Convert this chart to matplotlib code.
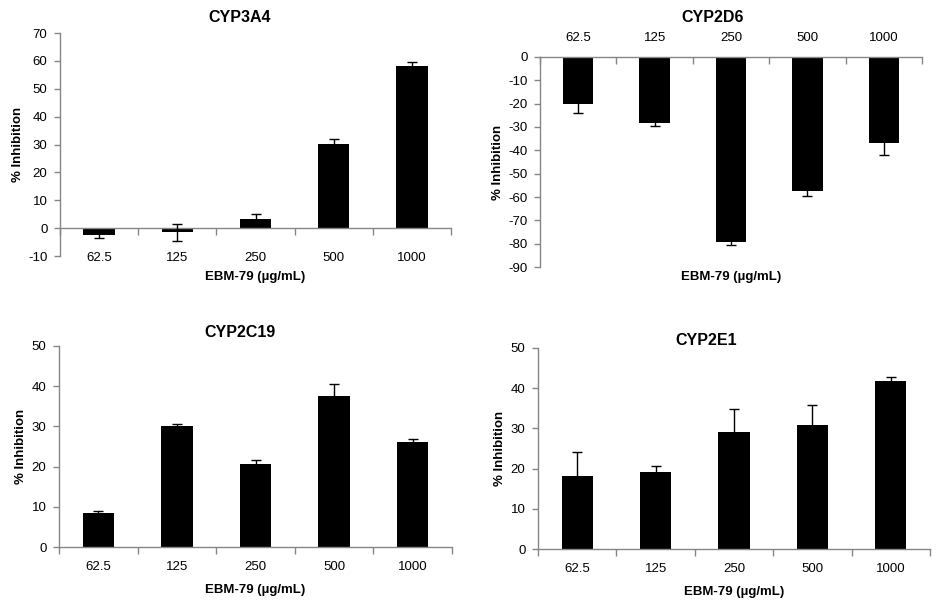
import numpy as np
import matplotlib
matplotlib.use('Agg')
from matplotlib import pyplot as plt
from matplotlib.ticker import FixedLocator, NullFormatter

plt.rcParams['font.family'] = ['Liberation Sans', 'DejaVu Sans']
plt.rcParams['axes.unicode_minus'] = False

# %% data
doses = ['62.5', '125', '250', '500', '1000']
xlabel = 'EBM-79 (\u00b5g/mL)'
ylabel = '% Inhibition'

cyp3a4 = [-2.3, -1.5, 3.3, 30.2, 58.1]
cyp3a4_err = [1.3, 3.0, 1.7, 1.7, 1.4]

cyp2d6 = [-20.3, -28.5, -79.2, -57.3, -36.7]
cyp2d6_err = [3.7, 1.2, 1.4, 2.4, 5.4]

cyp2c19 = [8.5, 30.1, 20.7, 37.6, 26.2]
cyp2c19_err = [0.4, 0.6, 0.9, 2.9, 0.75]

cyp2e1 = [18.1, 19.2, 29.1, 30.8, 41.7]
cyp2e1_err = [6.1, 1.5, 5.7, 5.1, 1.2]

AX_COL = '#868686'
W, H = 952, 603
TICK_FS = 9.5
LAB_FS = 9.5
TITLE_FS = 11.5

def px_axes(l, t, r, b):
    return fig.add_axes([l / W, 1 - b / H, (r - l) / W, (b - t) / H])

def style(ax, title, vals, errs, ylim, step, title_x, title_y):
    x = np.arange(len(doses))
    ax.bar(x, vals, width=0.4, color='black', zorder=2)
    ax.errorbar(x, vals, yerr=errs, fmt='none', ecolor='black', elinewidth=1,
                capsize=3.5, capthick=1, zorder=3)
    ax.set_xlim(-0.5, len(doses) - 0.5)
    ax.set_ylim(*ylim)
    ax.set_yticks(np.arange(ylim[0], ylim[1] + 0.1, step))
    for s in ['top', 'right']:
        ax.spines[s].set_visible(False)
    for s in ['left', 'bottom', 'top']:
        ax.spines[s].set_color(AX_COL)
        ax.spines[s].set_linewidth(1)
    ax.tick_params(axis='y', colors=AX_COL, labelcolor='black', labelsize=TICK_FS,
                   length=4, width=1, direction='out', pad=5)
    ax.set_xticks(x)
    ax.set_xticklabels(doses)
    ax.xaxis.set_minor_locator(FixedLocator(np.arange(-0.5, len(doses), 1)))
    ax.xaxis.set_minor_formatter(NullFormatter())
    ax.set_title(title, fontsize=TITLE_FS, fontweight='bold', x=title_x, y=title_y, pad=0)
    ax.set_ylabel(ylabel, fontsize=LAB_FS, fontweight='bold', labelpad=3)

fig = plt.figure(figsize=(9.52, 6.03), dpi=100)

# %% CYP3A4
ax1 = px_axes(60, 33, 451, 256)
style(ax1, 'CYP3A4', cyp3a4, cyp3a4_err, (-10, 70), 10, 0.46, 1.049)
ax1.spines['bottom'].set_position(('data', 0))
ax1.tick_params(axis='x', which='major', length=0, pad=17, labelsize=TICK_FS)
ax1.tick_params(axis='x', which='minor', length=5, width=1, colors=AX_COL)
ax1.set_xlabel(xlabel, fontsize=LAB_FS, fontweight='bold', labelpad=5)

# %% CYP2D6
ax2 = px_axes(540, 57, 922, 267)
style(ax2, 'CYP2D6', cyp2d6, cyp2d6_err, (-90, 0), 10, 0.452, 1.167)
ax2.spines['bottom'].set_visible(False)
ax2.spines['top'].set_visible(True)
ax2.xaxis.tick_top()
ax2.tick_params(axis='x', which='major', length=0, pad=9, labelsize=TICK_FS)
ax2.tick_params(axis='x', which='minor', length=5, width=1, colors=AX_COL,
                direction='in')
ax2.xaxis.set_label_position('bottom')
ax2.set_xlabel(xlabel, fontsize=LAB_FS, fontweight='bold', labelpad=3)

# %% CYP2C19
ax3 = px_axes(59, 346, 452, 547)
style(ax3, 'CYP2C19', cyp2c19, cyp2c19_err, (0, 50), 10, 0.46, 1.045)
ax3.tick_params(axis='x', which='major', length=0, pad=10, labelsize=TICK_FS)
ax3.tick_params(axis='x', which='minor', length=5, width=1, colors=AX_COL)
ax3.set_xlabel(xlabel, fontsize=LAB_FS, fontweight='bold', labelpad=8)

# %% CYP2E1
ax4 = px_axes(538, 348, 930, 549)
style(ax4, 'CYP2E1', cyp2e1, cyp2e1_err, (0, 50), 10, 0.43, 1.013)
ax4.tick_params(axis='x', which='major', length=0, pad=10, labelsize=TICK_FS)
ax4.tick_params(axis='x', which='minor', length=5, width=1, colors=AX_COL)
ax4.set_xlabel(xlabel, fontsize=LAB_FS, fontweight='bold', labelpad=8)

fig.savefig('out.png', dpi=100)
